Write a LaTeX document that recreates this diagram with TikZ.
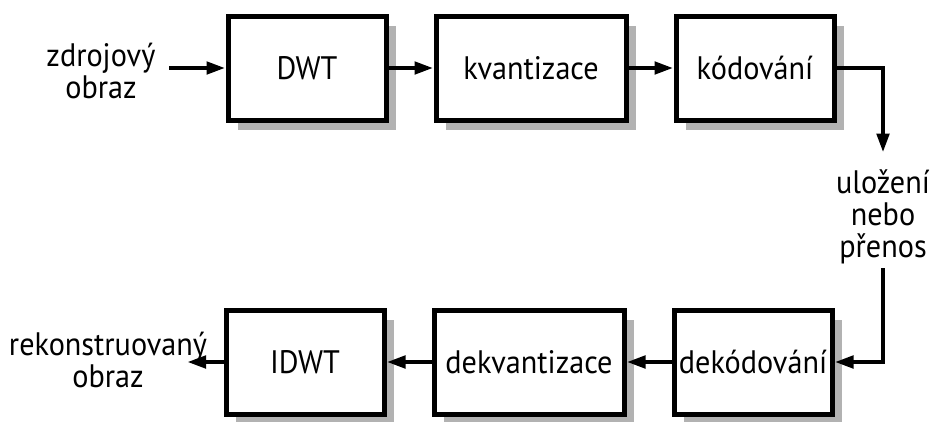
\documentclass[tikz,border=0pt]{standalone}
\usepackage{fontspec}
\setmainfont{PT Sans}[FakeStretch=0.93]
\usetikzlibrary{arrows.meta,positioning,shadows}

\begin{document}
\begin{tikzpicture}[
    x=1pt,y=-1pt,
    node distance=45pt,
    font=\fontsize{32.5}{32}\selectfont,
    blok/.style={rectangle,draw,line width=5pt,fill=white,inner sep=0pt,
      minimum width=158pt,minimum height=104pt,
      drop shadow={shadow xshift=10pt,shadow yshift=-10pt,fill=black!30,opacity=1}},
    popis/.style={align=center,inner sep=0pt},
    spoj/.style={line width=4.5pt,-{Triangle[length=19pt,width=12pt]}}]
    \useasboundingbox (0,0) rectangle (931,421);
    % koder (horni rada)
    \node[blok] (dwt) at (307,68) {DWT};
    \node[blok,minimum width=190pt,right=of dwt] (kvant) {kvantizace};
    \node[blok,right=of kvant] (kod) {kódování};
    % dekoder (dolni rada)
    \node[blok] (idwt) at (305,362) {IDWT};
    \node[blok,minimum width=190pt,right=of idwt] (dekvant) {dekvantizace};
    \node[blok,right=of dekvant] (dekod) {dekódování};
    % popisky
    \node[popis] (zdroj) at (101,71) {zdrojový\\obraz};
    \node[popis] (ulozeni) at (883,217) {uložení\\nebo\\přenos};
    \node[popis] (rekon) at (108,360) {rekonstruovaný\\obraz};
    \coordinate (vstup) at (169,68);
    \coordinate (vystup) at (187,362);
    % spoje
    \draw[spoj] (vstup) -- (dwt);
    \draw[spoj] (dwt) -- (kvant);
    \draw[spoj] (kvant) -- (kod);
    \draw[spoj,shorten >=17pt] (kod.east) -| (ulozeni.north);
    \draw[spoj,shorten <=4pt] (ulozeni.south) |- (dekod.east);
    \draw[spoj] (dekod) -- (dekvant);
    \draw[spoj] (dekvant) -- (idwt);
    \draw[spoj] (idwt) -- (vystup);
\end{tikzpicture}
\end{document}
